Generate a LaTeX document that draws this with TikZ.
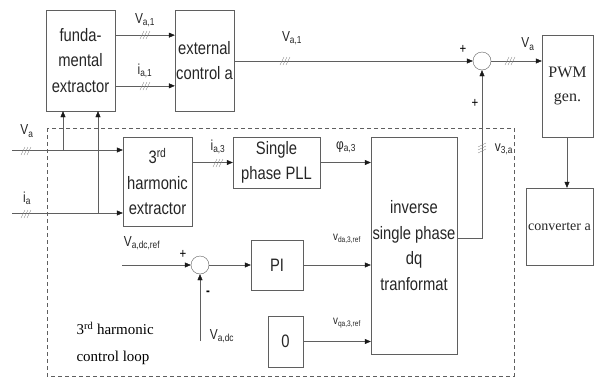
\documentclass[tikz,border=0pt]{standalone}
\usepackage{fontspec}
\setmainfont{Liberation Serif}
\newfontfamily\narrowsf[FakeStretch=0.82]{Liberation Sans}
\usetikzlibrary{arrows.meta,calc}

\definecolor{linegray}{RGB}{95,95,95}
\definecolor{hatchgray}{RGB}{130,130,130}

\begin{document}
\begin{tikzpicture}[x=1pt, y=-1pt,
    blk/.style={draw=linegray, rectangle, align=center, inner sep=0pt,
      font=\narrowsf\fontsize{18}{25.5}\selectfont, text=black!85},
    serifblk/.style={blk, font=\rmfamily\fontsize{16}{24}\selectfont},
    arr/.style={-{Triangle[length=6pt,width=5pt,color=black!90]}, draw=linegray, thin},
    sumpt/.style={draw=linegray, circle, minimum size=18pt, inner sep=0pt},
    lbl/.style={font=\narrowsf\fontsize{14.5}{16}\selectfont, text=black!85},
    smlbl/.style={font=\narrowsf\fontsize{12}{13}\selectfont, text=black!85},
    sgn/.style={font=\narrowsf\fontsize{14}{14}\selectfont},
    hatch/.pic={\foreach \d in {-3,0,3} \draw[hatchgray, thin] (\d-2,4) -- (\d+2,-4);},
    vhatch/.pic={\foreach \d in {-3,0,3} \draw[hatchgray, thin] (-4,\d+2) -- (4,\d-2);}]
  \useasboundingbox (0,0) rectangle (600,378);

  % blocks
  \node[blk, minimum width=69pt, minimum height=101pt] (fund) at (80.5,60.5) {funda-\\mental\\extractor};
  \node[blk, minimum width=59pt, minimum height=101pt] (ext) at (204.5,60.5) {external\\control a};
  \node[serifblk, minimum width=51pt, minimum height=102pt] (pwm) at (567.5,86) {PWM\\gen.};
  \node[serifblk, minimum width=67pt, minimum height=77pt, font=\rmfamily\fontsize{14}{16}\selectfont] (conv) at (559.5,226.5) {converter a};
  \node[blk, minimum width=69pt, minimum height=89pt] (h3) at (157.5,181.5) {3\textsuperscript{rd}\\harmonic\\extractor};
  \node[blk, minimum width=87pt, minimum height=51pt] (pll) at (276.5,162.5) {Single\\phase PLL};
  \node[blk, minimum width=86pt, minimum height=217pt] (inv) at (414,245.5) {inverse\\single phase\\dq\\tranformat};
  \node[blk, minimum width=52pt, minimum height=50pt] (pi) at (277,265) {PI};
  \node[blk, minimum width=35pt, minimum height=51pt] (zero) at (285.5,341.5) {0};

  % summing points
  \node[sumpt] (s1) at (482,61) {};
  \node[sumpt] (s2) at (200,265) {};

  % 3rd harmonic loop frame
  \draw[linegray, dashed, dash pattern=on 4pt off 3pt] (47,128) rectangle (514,376);
  \node[font=\rmfamily\fontsize{15}{27}\selectfont, align=left, anchor=west] (looptxt) at (73,343.5) {3\textsuperscript{rd} harmonic\\control loop};

  % free ends
  \coordinate (va) at (12,150);
  \coordinate (ia) at (12,213);
  \coordinate (vb) at (63,150);
  \coordinate (ib) at (98,213);
  \coordinate (ref) at (122,265);
  \coordinate (dc) at (200,341);
  \coordinate (f1) at ($(fund.north east)!0.25!(fund.south east)$);
  \coordinate (f2) at ($(fund.north east)!0.75!(fund.south east)$);
  \coordinate (io) at ($(inv.north east)!0.465!(inv.south east)$);

  % connectors
  \draw[arr] (va) -- (va -| h3.west);
  \draw[arr] (ia) -- (ia -| h3.west);
  \draw[arr] (vb) -- (vb |- fund.south);
  \draw[arr] (ib) -- (ib |- fund.south);
  \draw[arr] (f1) -- (f1 -| ext.west);
  \draw[arr] (f2) -- (f2 -| ext.west);
  \draw[arr] (ext.east |- s1.west) -- (s1.west);
  \draw[arr] (s1.east) -- (s1.east -| pwm.west);
  \draw[arr] (pwm.south -| 567,0) -- (567,0 |- conv.north);
  \draw[arr] (pll.west -| h3.east) -- (pll.west);
  \draw[arr] (pll.east) -- (pll.east -| inv.west);
  \draw[arr] (io) -| (s1.south);
  \draw[arr] (ref) -- (s2.west);
  \draw[arr] (s2.east) -- (pi.west);
  \draw[arr] (dc) -- (s2.south);
  \draw[arr] (pi.east) -- (pi.east -| inv.west);
  \draw[arr] (zero.east) -- (zero.east -| inv.west);

  % bus marks
  \pic at (145,35) {hatch};
  \pic at (145,86) {hatch};
  \pic at (285,61) {hatch};
  \pic at (510,61) {hatch};
  \pic at (26,151) {hatch};
  \pic at (26,214) {hatch};
  \pic at (218,163) {hatch};
  \pic at (482,148) {vhatch};

  % signal labels
  \node[lbl] (lva1) at (145,20) {V\textsubscript{a,1}};
  \node[lbl] (lia1) at (145,71) {i\textsubscript{a,1}};
  \node[lbl] (lva1b) at (292,38) {V\textsubscript{a,1}};
  \node[lbl] (lva) at (528,44) {V\textsubscript{a}};
  \node[lbl] (lvain) at (27,131) {V\textsubscript{a}};
  \node[lbl] (liain) at (27,198) {i\textsubscript{a}};
  \node[lbl] (lia3) at (218,147) {i\textsubscript{a,3}};
  \node[lbl] (lphi) at (346,147) {φ\textsubscript{a,3}};
  \node[lbl] (lv3a) at (504,149) {v\textsubscript{3,a}};
  \node[lbl] (lref) at (142,243) {V\textsubscript{a,dc,ref}};
  \node[lbl] (ldc) at (222,336) {V\textsubscript{a,dc}};
  \node[smlbl] (lvd) at (347,239) {v\textsubscript{da,3,ref}};
  \node[smlbl] (lvq) at (347,323) {v\textsubscript{qa,3,ref}};

  % signs
  \node[sgn] (p1) at (463,49) {+};
  \node[sgn] (p2) at (475,103) {+};
  \node[sgn] (p3) at (183,254) {+};
  \node[sgn, font=\narrowsf\bfseries\fontsize{14}{14}\selectfont] (m1) at (208,293) {-};
\end{tikzpicture}
\end{document}
